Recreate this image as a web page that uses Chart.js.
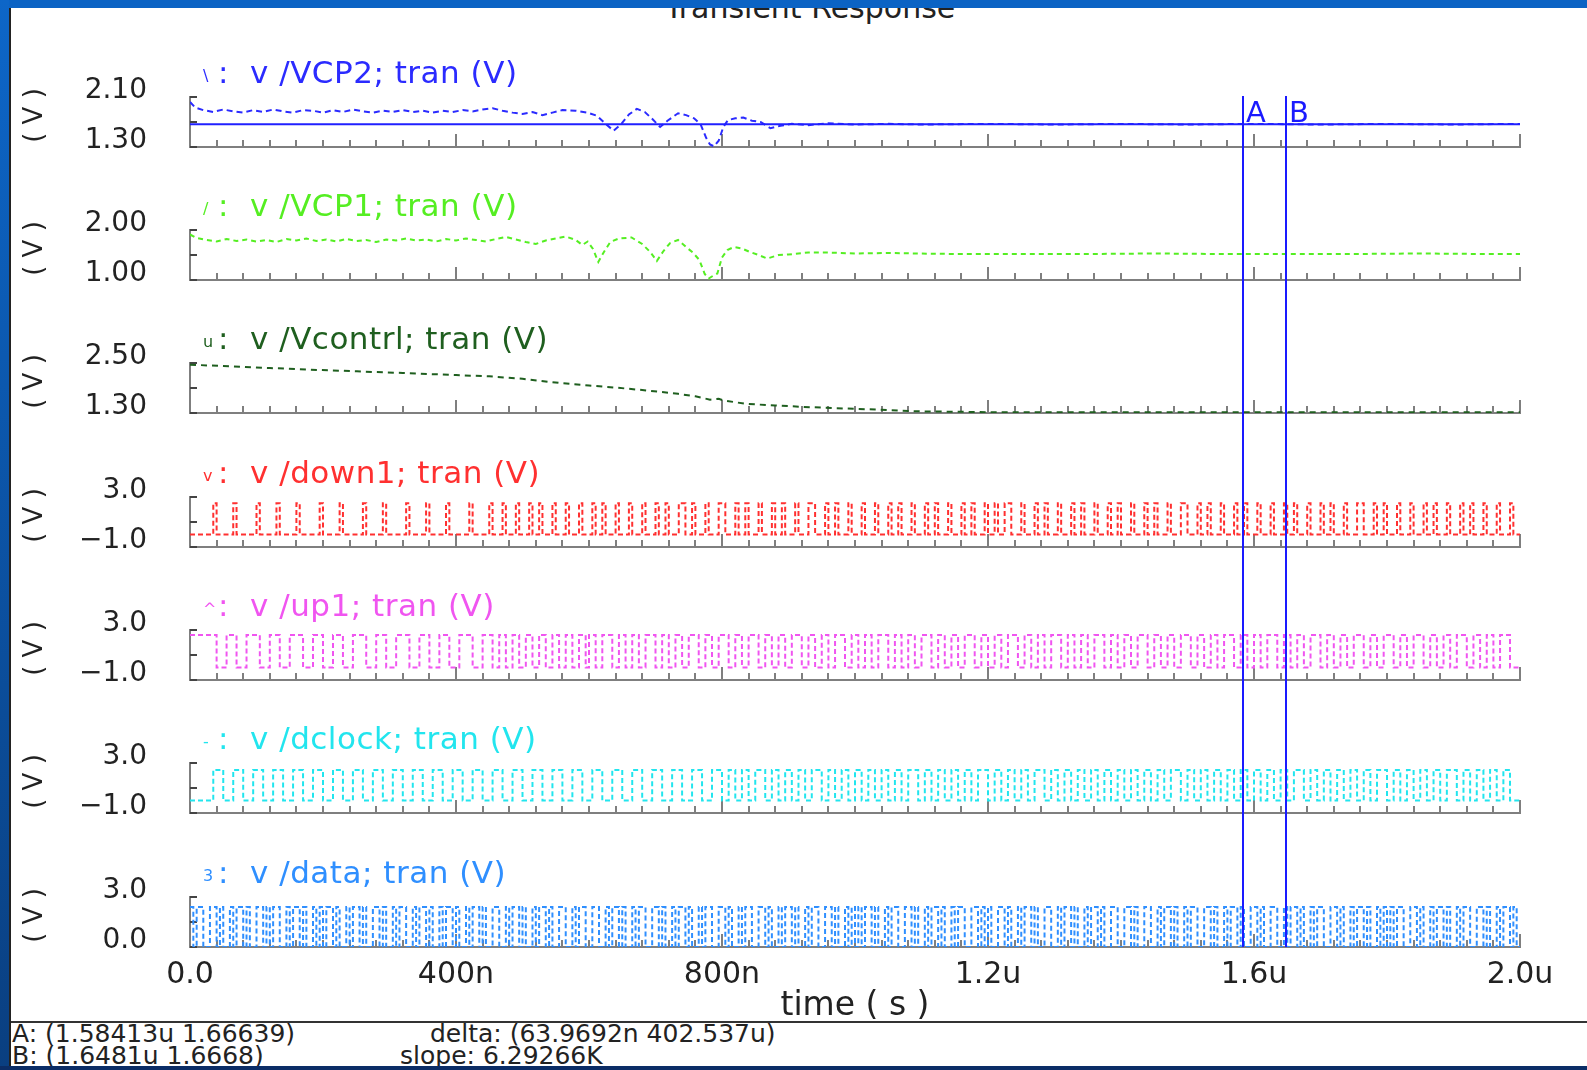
<!DOCTYPE html>
<html lang="en">
<head>
<meta charset="UTF-8">
<title>Transient Response</title>
<script src="https://cdn.jsdelivr.net/npm/chart.js@4.4.1/dist/chart.umd.min.js"></script>
<style>
  html, body { margin:0; padding:0; }
  body { width:1587px; height:1070px; position:relative; overflow:hidden; background:#fff; font-family:'DejaVu Sans', sans-serif; }
  #topband { position:absolute; left:0; top:0; width:1587px; height:8px; background:#0b63c4; z-index:5; }
  #leftband { position:absolute; left:0; top:0; width:9px; height:1070px; background:linear-gradient(#0d66c8, #0a3f80); z-index:5; }
  #leftline { position:absolute; left:9px; top:8px; width:2px; height:1060px; background:#222; z-index:5; }
  #bottomband { position:absolute; left:0; top:1066px; width:1587px; height:4px; background:#0b2d66; z-index:5; }
  #maintitle { position:absolute; top:-7px; left:0; width:1620px; text-align:center; font-size:30px; line-height:30px; color:#222; }
  .panel { position:absolute; left:0; width:1587px; }
  #statusline { position:absolute; left:11px; top:1021px; width:1576px; height:0; border-top:2px solid #333; }
  .st { position:absolute; font-size:25px; line-height:25px; color:#222; white-space:pre; }
</style>
</head>
<body>
<div id="topband"></div>
<div id="leftband"></div>
<div id="leftline"></div>
<div id="maintitle">Transient Response</div>
<div id="statusline"></div>
<div class="st" style="left:12px; top:1021px;">A: (1.58413u 1.66639)</div>
<div class="st" style="left:12px; top:1043px;">B: (1.6481u 1.6668)</div>
<div class="st" style="left:430px; top:1021px;">delta: (63.9692n 402.537u)</div>
<div class="st" style="left:400px; top:1043px;">slope: 6.29266K</div>
<div id="bottomband"></div>
<script>
    // signal names, axis labels (time in ns)
    const traceNames = ['/VCP2', '/VCP1', '/Vcontrl', '/down1', '/up1', '/dclock', '/data'];
    const traceMarks = ['\\', '/', 'u', 'v', '^', '-', '3'];
    const yTickLabels = [['1.30', '2.10'], ['1.00', '2.00'], ['1.30', '2.50'], ['−1.0', '3.0'], ['−1.0', '3.0'], ['−1.0', '3.0'], ['0.0', '3.0']];
    const xTickLabels = ['0.0', '400n', '800n', '1.2u', '1.6u', '2.0u'];
    const cursorNames = ['A', 'B'];
    const cursorTimes = [1584.13, 1648.1];

    const vcp2T = [0, 8, 20, 35, 50, 65, 80, 95, 110, 125, 140, 155, 170, 185, 200, 215, 230, 245, 260, 275,
        290, 305, 320, 335, 350, 365, 380, 395, 410, 425, 440, 455, 470, 485, 500, 515, 530, 545, 560, 580,
        598, 612, 624, 637, 648, 660, 672, 684, 696, 707, 718, 734, 746, 758, 768, 776, 782, 788, 795, 802,
        809, 820, 832, 845, 858, 873, 888, 905, 930, 960, 1000, 1050, 1100, 1200, 1300, 1400, 1500, 1600, 1700, 1800,
        1900, 2000];
    const vcp2V = [2.02, 1.93, 1.89, 1.86, 1.90, 1.87, 1.85, 1.89, 1.86, 1.90, 1.87, 1.85, 1.89, 1.88, 1.85, 1.89, 1.86, 1.90, 1.87, 1.85,
        1.88, 1.86, 1.89, 1.86, 1.88, 1.85, 1.88, 1.86, 1.89, 1.87, 1.90, 1.92, 1.88, 1.85, 1.83, 1.86, 1.81, 1.85, 1.89, 1.88,
        1.85, 1.80, 1.68, 1.56, 1.66, 1.82, 1.91, 1.86, 1.74, 1.62, 1.72, 1.84, 1.81, 1.76, 1.66, 1.45, 1.34, 1.31, 1.40, 1.62,
        1.73, 1.76, 1.77, 1.72, 1.70, 1.60, 1.64, 1.67, 1.65, 1.68, 1.66, 1.67, 1.66, 1.67, 1.66, 1.67, 1.66, 1.67, 1.66, 1.67,
        1.66, 1.67];
    const vcp2LevelT = [0, 2000];
    const vcp2Level = [1.666, 1.666];

    const vcp1T = [0, 10, 25, 40, 55, 70, 85, 100, 115, 130, 145, 160, 175, 190, 205, 220, 235, 250, 265, 280,
        295, 310, 325, 340, 355, 370, 385, 400, 415, 430, 445, 460, 475, 490, 505, 520, 535, 550, 565, 580,
        590, 598, 606, 614, 622, 632, 645, 664, 680, 692, 702, 712, 722, 734, 746, 756, 766, 774, 780, 786,
        793, 800, 808, 818, 830, 842, 855, 868, 885, 900, 930, 960, 1000, 1050, 1093, 1150, 1250, 1350, 1450, 1550,
        1650, 1750, 1850, 1950, 2000];
    const vcp1V = [1.91, 1.84, 1.80, 1.77, 1.82, 1.78, 1.81, 1.77, 1.80, 1.76, 1.82, 1.79, 1.83, 1.78, 1.81, 1.77, 1.82, 1.78, 1.80, 1.76,
        1.81, 1.79, 1.83, 1.79, 1.81, 1.77, 1.82, 1.79, 1.83, 1.80, 1.77, 1.82, 1.86, 1.81, 1.76, 1.72, 1.79, 1.83, 1.87, 1.80,
        1.70, 1.77, 1.62, 1.36, 1.55, 1.76, 1.83, 1.85, 1.72, 1.56, 1.38, 1.58, 1.74, 1.80, 1.66, 1.55, 1.40, 1.12, 1.03, 1.08,
        1.13, 1.45, 1.60, 1.66, 1.63, 1.56, 1.50, 1.43, 1.50, 1.51, 1.55, 1.55, 1.53, 1.54, 1.53, 1.52, 1.52, 1.52, 1.53, 1.52,
        1.52, 1.52, 1.53, 1.52, 1.52];

    const vctlT = [0, 60, 120, 180, 251, 320, 400, 450, 500, 556, 600, 640, 674, 705, 734, 760, 782, 795, 803, 836,
        880, 932, 1000, 1039, 1093, 1150, 1200, 1400, 1600, 1800, 2000];
    const vctlV = [2.46, 2.42, 2.38, 2.34, 2.30, 2.26, 2.21, 2.18, 2.12, 2.02, 1.96, 1.91, 1.86, 1.81, 1.76, 1.70, 1.62, 1.64, 1.60, 1.52,
        1.48, 1.44, 1.40, 1.38, 1.34, 1.33, 1.32, 1.32, 1.32, 1.32, 1.32];

    // digital traces: one character per 5 ns slot, 1 = high level
    const slotNs = 5;
    const down1High = 2.5, up1High = 2.6, dclockHigh = 2.45, dataHigh = 2.4;
    const down1Bits = [
        '0000000100000100000010000010000010000001',
        '0000010000001000001000000100000100000100',
        '0000100000100010001000100100010001000100',
        '0100100010001000100010010001100100010001',
        '1000100100010001001000100011000100100010',
        '0010001000100100010001001000100010010001',
        '0010011000100010010001000100100010001001',
        '0001000100100010001100010010001000100100',
        '0100010001001000100010010001000110001001',
        '0001000100010010001000100100010001000100'];
    const up1Bits = [
        '1111111100011100011110001110001111000111',
        '0001110001111000111000111100011100011100',
        '0111100011100110011001100110011001100110',
        '1100111001100110011100110011001110011001',
        '1100110011100110011001110011001100111001',
        '1001100111001100110011100110011001110011',
        '0011001110011001100111001100110011100110',
        '0110011100110011001110011001100111001100',
        '1100111001100110011100110011001110011001',
        '1100110011100110011001110011001100111000'];
    const dclockBits = [
        '0000000111000111000111000111000111000111',
        '0001110001110001110001110001110001110001',
        '1100011100011100011100011100011100011100',
        '0111000111000111000111000111000111000111',
        '0011001100111001100110011001110011001100',
        '1100110011001100111001100110011001100111',
        '0011001100110011100110011001100110011001',
        '1001100110011001110011001100110011001100',
        '1100110011001110011001100110011001100111',
        '0011001100110011001110011001100110011000'];
    const dataBits = [
        '1011001101001011010011010110010110100101',
        '0110100101101001101001011001011010010110',
        '1001011010011001011010010110100110010110',
        '0110010110100101100110100101101001011001',
        '1010010110011010010110100101100110100101',
        '0101101001011001101001011010010110011010',
        '1001101001011010011001011010010110100110',
        '0110100110010110100101100110100101101001',
        '1010011001011010010110011010010110100101',
        '0101100110100101101001011001101001011010'];

    // layout (px)
    const panelBase = [147, 280, 413, 547, 680, 813, 947];
    const plotRight = 1520;
    const font = "'DejaVu Sans', sans-serif";
    const axisGrey = '#7f7f7f';
    const colors = ['#2b2bff', '#55ee22', '#1f5f1f', '#ff3030', '#f055f0', '#22e5ee', '#2f8fff'];

    Chart.defaults.font.family = font;

    function pairs(ts, vs) {
        return ts.map((t, k) => ({x: t, y: vs[k]}));
    }

    function bitsToPoints(lines, hi) {
        const bits = lines.join('');
        let prev = bits[0] === '1' ? hi : 0;
        const pts = [{x: 0, y: prev}];
        for (let k = 1; k < bits.length; k++) {
            const v = bits[k] === '1' ? hi : 0;
            if (v !== prev) {
                pts.push({x: k * slotNs, y: prev}, {x: k * slotNs, y: v});
                prev = v;
            }
        }
        pts.push({x: bits.length * slotNs, y: prev});
        return pts;
    }

    function toNum(s) {
        return parseFloat(s.replace('−', '-'));
    }

    // small inward ticks, like the waveform viewer
    const inwardTicks = {
        id: 'inwardTicks',
        beforeDatasetsDraw(chart) {
            const {ctx, chartArea} = chart;
            const xs = chart.scales.x, ys = chart.scales.y;
            ctx.save();
            ctx.lineWidth = 2;
            ctx.strokeStyle = axisGrey;
            ctx.beginPath();
            xs.ticks.forEach(t => {
                const px = Math.round(xs.getPixelForValue(t.value));
                const len = t.value % 400 === 0 ? 13 : 7;
                ctx.moveTo(px, chartArea.bottom);
                ctx.lineTo(px, chartArea.bottom - len);
            });
            ctx.stroke();
            ctx.strokeStyle = '#444';
            ctx.beginPath();
            ys.ticks.forEach(t => {
                const py = Math.round(ys.getPixelForValue(t.value));
                ctx.moveTo(chartArea.left, py);
                ctx.lineTo(chartArea.left + 7, py);
            });
            ctx.stroke();
            ctx.restore();
        }
    };

    const traceTitle = {
        id: 'traceTitle',
        afterDraw(chart, args, opts) {
            const {ctx, chartArea} = chart;
            const y = chartArea.top - 22;
            ctx.save();
            ctx.fillStyle = opts.color;
            ctx.textBaseline = 'middle';
            ctx.textAlign = 'left';
            ctx.font = '16px ' + font;
            ctx.fillText(opts.mark, 203, y + 2);
            ctx.font = '31px ' + font;
            ctx.letterSpacing = '0.5px';
            ctx.fillText(':', 218, y);
            ctx.fillText(opts.text, 250, y);
            ctx.restore();
        }
    };

    const cursors = {
        id: 'cursors',
        afterDatasetsDraw(chart, args, opts) {
            const {ctx, chartArea} = chart;
            const xs = chart.scales.x;
            const y0 = opts.first ? chartArea.top - 1 : 0;
            const y1 = opts.last ? chartArea.bottom : chart.height;
            ctx.save();
            ctx.strokeStyle = '#1a1aff';
            ctx.fillStyle = '#1a1aff';
            ctx.lineWidth = 2;
            ctx.font = '29px ' + font;
            ctx.textBaseline = 'middle';
            cursorTimes.forEach((t, k) => {
                const px = Math.round(xs.getPixelForValue(t));
                ctx.beginPath();
                ctx.moveTo(px, y0);
                ctx.lineTo(px, y1);
                ctx.stroke();
                if (opts.first) ctx.fillText(cursorNames[k], px + 3, chartArea.top + 17);
            });
            ctx.restore();
        }
    };

    function makePanel(i, datasets) {
        const last = i === panelBase.length - 1;
        const top = panelBase[i] - 120;
        const bottom = last ? 1023 : panelBase[i + 1] - 120;
        const axisH = last ? 76 : 2;
        const box = document.createElement('div');
        box.className = 'panel';
        box.style.top = top + 'px';
        box.style.height = (bottom - top) + 'px';
        const cv = document.createElement('canvas');
        box.appendChild(cv);
        document.body.appendChild(box);

        const lo = yTickLabels[i][0], hi = yTickLabels[i][1];
        const yMin = toNum(lo), yMax = toNum(hi);

        new Chart(cv, {
            type: 'line',
            data: {datasets: datasets},
            options: {
                animation: false,
                responsive: true,
                maintainAspectRatio: false,
                devicePixelRatio: 1,
                layout: {padding: {top: 70, left: 0, right: 1587 - plotRight, bottom: (bottom - top) - 120 - axisH}},
                elements: {point: {radius: 0}, line: {tension: 0}},
                plugins: {
                    legend: {display: false},
                    tooltip: {enabled: false},
                    traceTitle: {color: colors[i], mark: traceMarks[i], text: 'v ' + traceNames[i] + '; tran (V)'},
                    cursors: {first: i === 0, last: last}
                },
                scales: {
                    x: {
                        type: 'linear', min: 0, max: 2000,
                        afterFit: s => { s.height = axisH; },
                        grid: {drawOnChartArea: false, drawTicks: false},
                        border: {color: axisGrey, width: 2},
                        ticks: {
                            display: last, stepSize: 40, autoSkip: false, maxRotation: 0, padding: 10,
                            color: '#222', font: {size: 30},
                            callback: v => v % 400 === 0 ? xTickLabels[v / 400] : ''
                        },
                        title: {display: last, text: 'time ( s )', color: '#222', font: {size: 33, lineHeight: 1}, padding: {top: 0, bottom: 0}}
                    },
                    y: {
                        min: yMin, max: yMax,
                        afterBuildTicks: s => { s.ticks = [{value: yMin}, {value: (yMin + yMax) / 2}, {value: yMax}]; },
                        afterFit: s => { s.width = 190; },
                        // transparent outer tick marks give the gap between labels and axis
                        grid: {drawOnChartArea: false, drawTicks: true, tickLength: 43, tickColor: 'rgba(0,0,0,0)'},
                        border: {color: axisGrey, width: 2},
                        ticks: {
                            padding: 0, labelOffset: -6, color: '#222', font: {size: 28, lineHeight: 0.7},
                            callback: (v, k) => k === 0 ? lo : (k === 2 ? hi : '')
                        },
                        title: {display: true, text: '\u2002( V )', color: '#222', font: {size: 26, lineHeight: 1}, padding: {top: 22, bottom: 0}}
                    }
                }
            },
            plugins: [inwardTicks, traceTitle, cursors]
        });
    }

    function analog(pts, color, dash) {
        return {data: pts, borderColor: color, borderWidth: 2, borderDash: dash, pointRadius: 0, fill: false};
    }

    makePanel(0, [
        analog(pairs(vcp2LevelT, vcp2Level), '#2020ff', []),
        analog(pairs(vcp2T, vcp2V), colors[0], [6, 4])
    ]);
    makePanel(1, [analog(pairs(vcp1T, vcp1V), colors[1], [5, 4])]);
    makePanel(2, [analog(pairs(vctlT, vctlV), colors[2], [6, 5])]);
    makePanel(3, [analog(bitsToPoints(down1Bits, down1High), colors[3], [5, 3])]);
    makePanel(4, [analog(bitsToPoints(up1Bits, up1High), colors[4], [5, 3])]);
    makePanel(5, [analog(bitsToPoints(dclockBits, dclockHigh), colors[5], [5, 3])]);
    makePanel(6, [analog(bitsToPoints(dataBits, dataHigh), colors[6], [5, 3])]);
</script>
</body>
</html>
